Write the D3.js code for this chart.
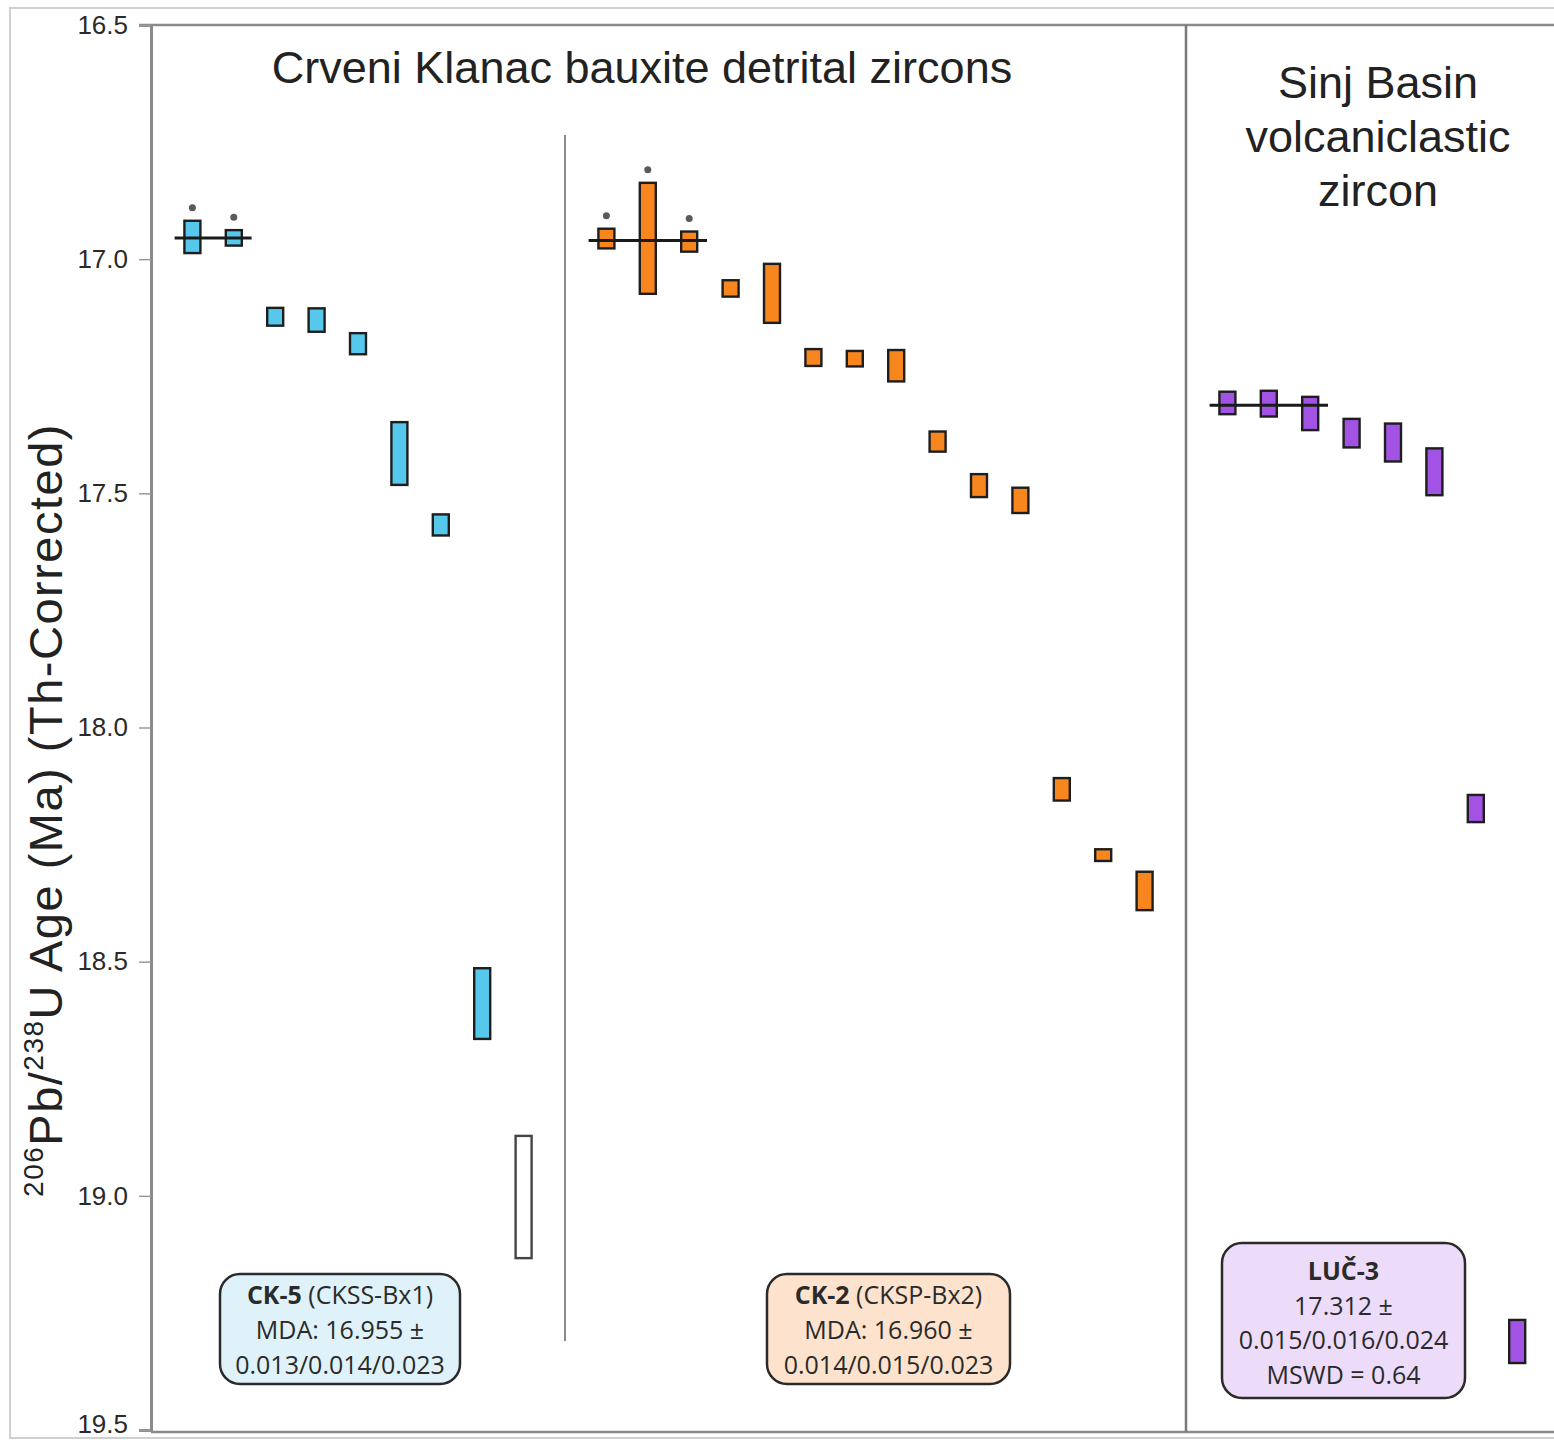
<!DOCTYPE html>
<html>
<head>
<meta charset="utf-8">
<script src="https://cdn.jsdelivr.net/npm/d3@7"></script>
<style>
    body { margin: 0; background: #fff; }
    svg { display: block; }
</style>
</head>
<body>
<div id="chart"></div>
<script>
// 206Pb/238U ages (Ma), 2σ window read as [lo, hi] for every grain

// CK-5 (CKSS-Bx1)
const ck5Lo = [16.918, 16.938, 17.104, 17.105, 17.158, 17.348, 17.545, 18.514, 18.872];
const ck5Hi = [16.987, 16.971, 17.142, 17.155, 17.203, 17.482, 17.590, 18.665, 19.133];
const ck5Star = [true, true, false, false, false, false, false, false, false];
const ck5Excluded = [false, false, false, false, false, false, false, false, true];

// CK-2 (CKSP-Bx2)
const ck2Lo = [16.935, 16.837, 16.941, 17.045, 17.010, 17.192, 17.196, 17.194, 17.368, 17.459, 17.488, 18.108, 18.260, 18.308];
const ck2Hi = [16.977, 17.074, 16.984, 17.080, 17.136, 17.228, 17.229, 17.261, 17.411, 17.508, 17.542, 18.156, 18.285, 18.390];
const ck2Star = [true, true, true, false, false, false, false, false, false, false, false, false, false, false];

// LUČ-3
const lucLo = [17.283, 17.281, 17.294, 17.341, 17.351, 17.404, 18.144, 19.265];
const lucHi = [17.331, 17.336, 17.365, 17.402, 17.432, 17.504, 18.202, 19.357];

// weighted means / MDAs
const means = [16.955, 16.960, 17.312];
const meanCounts = [2, 3, 3];

const yTicks = [16.5, 17.0, 17.5, 18.0, 18.5, 19.0, 19.5];

const legendCK5 = ['(CKSS-Bx1)', 'MDA: 16.955 ±', '0.013/0.014/0.023'];
const legendCK2 = ['(CKSP-Bx2)', 'MDA: 16.960 ±', '0.014/0.015/0.023'];
const legendLUC = ['LUČ-3', '17.312 ±', '0.015/0.016/0.024', 'MSWD = 0.64'];

const width = 1554, height = 1440;
const margin = { top: 25, left: 151 };
const slotW = 41.4;

const svg = d3.select('#chart').append('svg')
    .attr('width', width)
    .attr('height', height)
    .style('font-family', '"Liberation Sans", Arial, sans-serif');

// outer light border
svg.append('rect')
    .attr('x', 10).attr('y', 8)
    .attr('width', width).attr('height', 1430)
    .attr('fill', 'none')
    .attr('stroke', '#d0d0d0')
    .attr('stroke-width', 2);

const x = d3.scaleLinear()
    .domain([-1, 33])
    .range([margin.left, margin.left + 34 * slotW]);

const y = d3.scaleLinear()
    .domain([16.5, 19.5])
    .range([margin.top, 1430]);

// frame: top + bottom lines
svg.append('line')
    .attr('x1', margin.left - 12).attr('x2', width)
    .attr('y1', y(16.5)).attr('y2', y(16.5))
    .attr('stroke', '#8a8a8a').attr('stroke-width', 2.5);
svg.append('line')
    .attr('x1', margin.left).attr('x2', width)
    .attr('y1', y(19.5) + 2).attr('y2', y(19.5) + 2)
    .attr('stroke', '#8a8a8a').attr('stroke-width', 2.5);

// y axis
const yAxisG = svg.append('g')
    .attr('transform', `translate(${margin.left},0)`)
    .call(d3.axisLeft(y).tickValues(yTicks).tickFormat(d3.format('.1f')).tickSize(12).tickPadding(11));

yAxisG.select('.domain').attr('stroke', '#8a8a8a').attr('stroke-width', 3);
yAxisG.selectAll('.tick line').attr('stroke', '#9a9a9a').attr('stroke-width', 1.5);
yAxisG.selectAll('.tick text')
    .attr('fill', '#2a2a2a')
    .attr('dy', d => d === 19.5 ? '0.1em' : '0.32em')
    .style('font-size', '26px')
    .style('font-family', '"Liberation Sans", Arial, sans-serif');

// y axis title with superscripts
const yTitle = svg.append('text')
    .attr('transform', 'translate(62,810) rotate(-90)')
    .attr('text-anchor', 'middle')
    .attr('fill', '#222')
    .style('font-size', '47px')
    .style('letter-spacing', '1.5px');
yTitle.append('tspan').text('206').attr('dy', -19).style('font-size', '28px');
yTitle.append('tspan').text('Pb/').attr('dy', 19);
yTitle.append('tspan').text('238').attr('dy', -19).style('font-size', '28px');
yTitle.append('tspan').text('U Age (Ma) (Th-Corrected)').attr('dy', 19);

// panel dividers
svg.append('line')
    .attr('x1', x(9)).attr('x2', x(9))
    .attr('y1', y(16.735)).attr('y2', y(19.31))
    .attr('stroke', '#8a8a8a').attr('stroke-width', 2);
svg.append('line')
    .attr('x1', x(24)).attr('x2', x(24))
    .attr('y1', y(16.5)).attr('y2', y(19.5) + 2)
    .attr('stroke', '#7a7a7a').attr('stroke-width', 2.5);

// panel titles
svg.append('text')
    .attr('x', 642).attr('y', 83)
    .attr('text-anchor', 'middle')
    .attr('fill', '#222')
    .style('font-size', '45px')
    .text('Crveni Klanac bauxite detrital zircons');

const sinjTitle = svg.append('text')
    .attr('text-anchor', 'middle')
    .attr('fill', '#222')
    .style('font-size', '45px');
['Sinj Basin', 'volcaniclastic', 'zircon'].forEach((t, i) => {
    sinjTitle.append('tspan').attr('x', 1378).attr('y', 98 + i * 54).text(t);
});

// build sample tables
const samples = [
    { lo: ck5Lo, hi: ck5Hi, star: ck5Star, excl: ck5Excluded, start: 0, fill: '#55c8ec' },
    { lo: ck2Lo, hi: ck2Hi, star: ck2Star, excl: ck2Lo.map(() => false), start: 10, fill: '#f7861f' },
    { lo: lucLo, hi: lucHi, star: lucLo.map(() => false), excl: lucLo.map(() => false), start: 25, fill: '#a253e3' }
];

const boxW = 16;

samples.forEach((s, si) => {
    const grains = s.lo.map((lo, i) => ({
        slot: s.start + i, lo, hi: s.hi[i], star: s.star[i], excl: s.excl[i]
    }));

    const g = svg.append('g').attr('class', 'sample');

    g.selectAll('rect.grain')
        .data(grains)
        .enter().append('rect')
        .attr('class', 'grain')
        .attr('x', d => x(d.slot) - boxW / 2)
        .attr('y', d => y(d.lo))
        .attr('width', boxW)
        .attr('height', d => y(d.hi) - y(d.lo))
        .attr('fill', d => d.excl ? '#fff' : s.fill)
        .attr('stroke', d => d.excl ? '#444' : '#1e1e1e')
        .attr('stroke-width', 2.4);

    g.selectAll('circle.star')
        .data(grains.filter(d => d.star))
        .enter().append('circle')
        .attr('class', 'star')
        .attr('cx', d => x(d.slot))
        .attr('cy', d => y(d.lo) - 13)
        .attr('r', 3.5)
        .attr('fill', '#5a5a5a');

    // weighted mean line
    g.append('line')
        .attr('x1', x(s.start - 0.43))
        .attr('x2', x(s.start + meanCounts[si] - 1 + 0.43))
        .attr('y1', y(means[si])).attr('y2', y(means[si]))
        .attr('stroke', '#1a1a1a')
        .attr('stroke-width', 3);
});

// legend boxes
function legendBox(bx, by, bw, bh, fill, lines, boldFirst, firstBold, lineGap, firstBase) {
    const g = svg.append('g').style('font-family', '"Open Sans", "Noto Sans", sans-serif');
    g.append('rect')
        .attr('x', bx).attr('y', by)
        .attr('width', bw).attr('height', bh)
        .attr('rx', 20)
        .attr('fill', fill)
        .attr('stroke', '#2a2a2a')
        .attr('stroke-width', 2.5);
    const cx = bx + bw / 2;
    lines.forEach((t, i) => {
        const txt = g.append('text')
            .attr('x', cx).attr('y', firstBase + i * lineGap)
            .attr('text-anchor', 'middle')
            .attr('fill', '#2a2a2a')
            .style('font-size', '25px');
        if (i === 0 && firstBold) {
            txt.append('tspan').style('font-weight', 'bold').text(firstBold);
            txt.append('tspan').text(' ' + t);
        } else if (i === 0 && boldFirst) {
            txt.style('font-weight', 'bold').text(t);
        } else {
            txt.text(t);
        }
    });
}

legendBox(220, 1274, 240, 110, '#dff2fa', legendCK5, false, 'CK-5', 35, 1304);
legendBox(767, 1274, 243, 110, '#fde3cd', legendCK2, false, 'CK-2', 35, 1304);
legendBox(1222, 1243, 243, 155, '#ecdcfa', legendLUC, true, null, 34.5, 1280);
</script>
</body>
</html>
